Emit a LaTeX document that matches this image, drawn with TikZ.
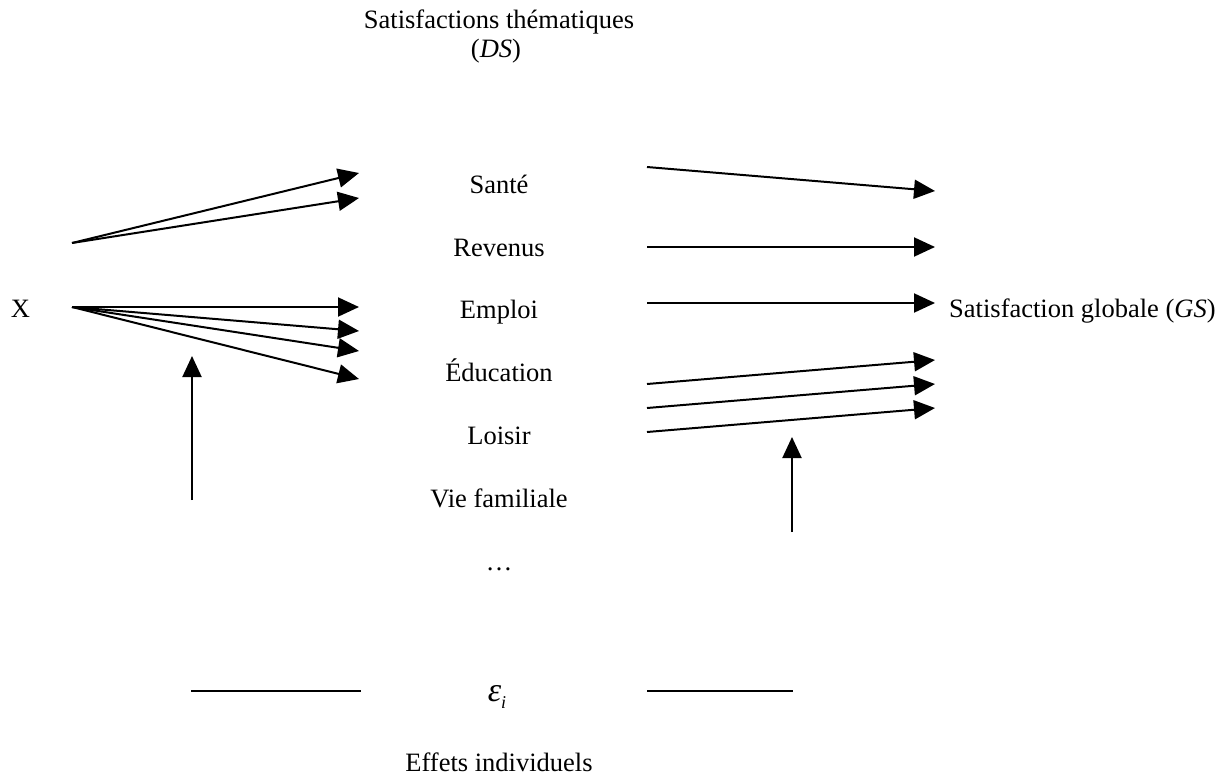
\documentclass[tikz,border=0pt]{standalone}
\usepackage{fontspec}
\setmainfont{Liberation Serif}
\usetikzlibrary{arrows.meta}
\begin{document}
\begin{tikzpicture}[x=1pt,y=-1pt,
  lbl/.style={anchor=base,inner sep=0pt,font=\fontsize{26.5}{32}\selectfont},
  con/.style={line width=2pt,line cap=butt},
  arr/.style={con,-{Triangle[length=21pt,width=19pt]}}]
\useasboundingbox (0,0) rectangle (1226,777);
% texts
\node[lbl] (title) at (499,28) {Satisfactions thématiques};
\node[lbl] (ds) at (496,57) {(\textit{DS})};
\node[lbl] (sante) at (499,193) {Santé};
\node[lbl] (revenus) at (499,256) {Revenus};
\node[lbl] (emploi) at (499,318) {Emploi};
\node[lbl] (educ) at (499,381) {Éducation};
\node[lbl] (loisir) at (499,444) {Loisir};
\node[lbl] (vie) at (499,507) {Vie familiale};
\node[lbl] (dots) at (499,570) {…};
\node[lbl] (x) at (20.5,317) {X};
\node[lbl,anchor=base west] (gs) at (949,317) {Satisfaction globale (\textit{GS})};
\node[lbl] (eps) at (497,701) {\textit{\fontsize{34}{36}\selectfont ε\raisebox{-7pt}{\fontsize{18}{18}\selectfont i}}};
\node[lbl] (eff) at (499,771) {Effets individuels};
% coordinates
\coordinate (u0) at (72,243);
\coordinate (u1) at (359,173);
\coordinate (u2) at (359,198);
\coordinate (l0) at (72,307);
\coordinate (l1) at (359,307);
\coordinate (l2) at (359,331);
\coordinate (l3) at (359,351);
\coordinate (l4) at (359,379);
\coordinate (lv0) at (192,500);
\coordinate (lv1) at (192,356);
\coordinate (r1a) at (647,167);
\coordinate (r1b) at (935,191);
\coordinate (r2a) at (647,247);
\coordinate (r2b) at (935,247);
\coordinate (r3a) at (647,303);
\coordinate (r3b) at (935,303);
\coordinate (r4a) at (647,384);
\coordinate (r4b) at (935,360);
\coordinate (r5a) at (647,408);
\coordinate (r5b) at (935,384);
\coordinate (r6a) at (647,432);
\coordinate (r6b) at (935,408);
\coordinate (rv0) at (792,532);
\coordinate (rv1) at (792,437);
\coordinate (b1a) at (191,691);
\coordinate (b1b) at (361,691);
\coordinate (b2a) at (647,691);
\coordinate (b2b) at (793,691);
% arrows
\draw[arr] (u0) -- (u1);
\draw[arr] (u0) -- (u2);
\draw[arr] (l0) -- (l1);
\draw[arr] (l0) -- (l2);
\draw[arr] (l0) -- (l3);
\draw[arr] (l0) -- (l4);
\draw[arr] (lv0) -- (lv1);
\draw[arr] (r1a) -- (r1b);
\draw[arr] (r2a) -- (r2b);
\draw[arr] (r3a) -- (r3b);
\draw[arr] (r4a) -- (r4b);
\draw[arr] (r5a) -- (r5b);
\draw[arr] (r6a) -- (r6b);
\draw[arr] (rv0) -- (rv1);
\draw[con] (b1a) -- (b1b);
\draw[con] (b2a) -- (b2b);
\end{tikzpicture}
\end{document}
